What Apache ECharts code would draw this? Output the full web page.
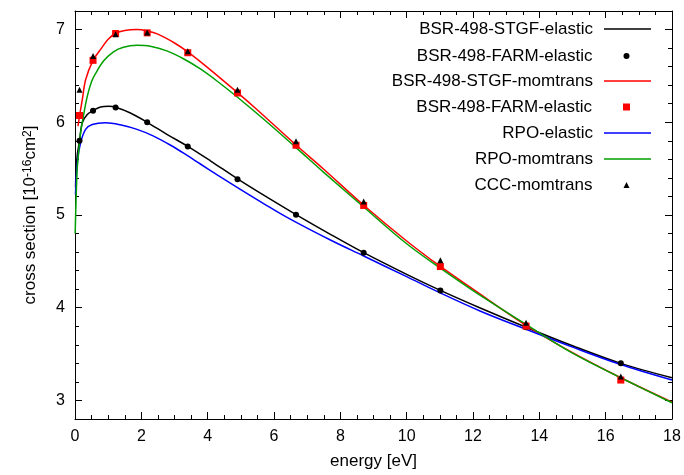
<!DOCTYPE html>
<html>
<head>
<meta charset="utf-8">
<script src="https://cdn.jsdelivr.net/npm/echarts@6/dist/echarts.min.js"></script>
<style>html,body{margin:0;padding:0;background:#fff;}#c{width:684px;height:475px;}</style>
</head>
<body>
<div id="c"></div>
<script>
// ---- data ----
const energyFarm = [0.136, 0.544, 1.224, 2.176, 3.4, 4.9, 6.664, 8.704, 11.016, 13.6, 16.456];
const farmElastic = [5.802, 6.123, 6.158, 6.001, 5.738, 5.385, 5.003, 4.594, 4.187, 3.79, 3.402];
const farmMomtrans = [6.073, 6.668, 6.957, 6.964, 6.750, 6.316, 5.752, 5.103, 4.444, 3.802, 3.220];
const energyCcc = [0.136, 0.544, 1.224, 2.176, 3.4, 4.9, 6.664, 8.704, 11.016, 13.6, 16.456];
const cccMomtrans = [6.351, 6.714, 6.950, 6.968, 6.765, 6.351, 5.795, 5.145, 4.511, 3.837, 3.257];

const stgfElasticE = [0.015, 0.06, 0.136, 0.22, 0.37, 0.544, 0.77, 1.02, 1.224, 1.67, 2.176, 2.77, 3.4, 4.08, 4.9, 5.8, 6.664, 7.7, 8.704, 10, 11.016, 12.2, 13.6, 15, 16.456, 18];
const stgfElastic = [5.30, 5.62, 5.80, 5.995, 6.083, 6.125, 6.165, 6.172, 6.162, 6.10, 6.00, 5.87, 5.74, 5.585, 5.39, 5.19, 5.005, 4.792, 4.594, 4.36, 4.187, 4.0, 3.79, 3.59, 3.40, 3.245];

const stgfMomtransE = [0.09, 0.136, 0.22, 0.32, 0.544, 0.8, 1.0, 1.224, 1.5, 1.87, 2.176, 2.5, 3.0, 3.4, 4.0, 4.9, 5.5, 6.664, 7.5, 8.704, 10, 11.016, 12, 13.6, 15, 16.456, 18];
const stgfMomtrans = [5.958, 6.065, 6.244, 6.458, 6.668, 6.80, 6.895, 6.96, 6.99, 7.0, 6.985, 6.95, 6.855, 6.76, 6.59, 6.32, 6.133, 5.755, 5.494, 5.105, 4.72, 4.445, 4.20, 3.81, 3.515, 3.245, 2.982];

const rpoElasticE = [0.015, 0.07, 0.17, 0.32, 0.52, 0.92, 1.36, 1.87, 2.37, 2.87, 3.37, 3.78, 4.3, 4.9, 5.7, 6.49, 7.7, 8.69, 10, 11.01, 12.21, 13.58, 15, 16.43, 18];
const rpoElastic = [5.22, 5.567, 5.78, 5.923, 5.976, 5.995, 5.973, 5.923, 5.851, 5.755, 5.645, 5.55, 5.43, 5.295, 5.12, 4.955, 4.73, 4.56, 4.335, 4.16, 3.965, 3.77, 3.575, 3.39, 3.22];

const rpoMomtransE = [0.005, 0.06, 0.10, 0.17, 0.27, 0.37, 0.5, 0.61, 0.86, 1.16, 1.46, 1.87, 2.27, 2.77, 3.27, 3.78, 4.3, 4.9, 5.7, 6.664, 7.5, 8.704, 10, 11.016, 12, 13.6, 15, 16.456, 18];
const rpoMomtrans = [4.80, 5.46, 5.64, 5.89, 6.10, 6.28, 6.44, 6.52, 6.66, 6.76, 6.81, 6.83, 6.82, 6.77, 6.685, 6.575, 6.44, 6.27, 6.03, 5.727, 5.46, 5.086, 4.69, 4.426, 4.185, 3.82, 3.51, 3.245, 2.975];

const xTickLabels = [0, 2, 4, 6, 8, 10, 12, 14, 16, 18];
const yMajorTicks = [3, 4, 5, 6, 7];
const yMinorTicks = [3.2, 3.4, 3.6, 3.8, 4.2, 4.4, 4.6, 4.8, 5.2, 5.4, 5.6, 5.8, 6.2, 6.4, 6.6, 6.8];

const legendNames = ['BSR-498-STGF-elastic', 'BSR-498-FARM-elastic', 'BSR-498-STGF-momtrans', 'BSR-498-FARM-momtrans', 'RPO-elastic', 'RPO-momtrans', 'CCC-momtrans'];
const legendLabels = ['BSR-498-STGF-elastic', 'BSR-498-FARM-elastic', 'BSR-498-STGF-momtrans', 'BSR-498-FARM-elastic', 'RPO-elastic', 'RPO-momtrans', 'CCC-momtrans'];

// ---- chart ----
const FONT = "'Liberation Sans', Arial, sans-serif";
const pair = (xs, ys) => xs.map((x, i) => [x, ys[i]]);

const chart = echarts.init(document.getElementById('c'), null, {renderer: 'canvas'});

const xMin = xTickLabels[0], xMax = xTickLabels[xTickLabels.length - 1];
const yMin = 2.8, yMax = 7.2;

function xAx(pos, showLabel) {
  return {
    type: 'value', position: pos, min: xMin, max: xMax, interval: 2,
    axisLine: {show: true, onZero: false, lineStyle: {color: '#000', width: 1}},
    axisTick: {show: true, inside: true, length: 7, lineStyle: {color: '#000'}},
    minorTick: {show: true, splitNumber: 4, length: 4, lineStyle: {color: '#000'}},
    axisLabel: {show: showLabel, color: '#000', fontSize: 16, fontFamily: FONT, margin: 10},
    splitLine: {show: false},
    name: showLabel ? 'energy [eV]' : '',
    nameLocation: 'middle', nameGap: 34,
    nameTextStyle: {color: '#000', fontSize: 17, fontFamily: FONT}
  };
}
function yAx(pos, major, showLabel) {
  const o = {
    type: 'value', position: pos, min: yMin, max: yMax,
    axisLine: {show: major, onZero: false, lineStyle: {color: '#000', width: 1}},
    axisTick: {show: true, inside: true, length: major ? 7 : 4, customValues: major ? yMajorTicks : yMinorTicks, lineStyle: {color: '#000', width: 1}},
    axisLabel: {show: showLabel, color: '#000', fontSize: 16, fontFamily: FONT, margin: 10, customValues: yMajorTicks},
    splitLine: {show: false}
  };
  if (showLabel) {
    o.name = 'cross section [10{sup|-16}cm{sup|2}]';
    o.nameLocation = 'middle';
    o.nameGap = 36;
    o.nameTextStyle = {color: '#000', fontSize: 17, fontFamily: FONT,
      rich: {sup: {fontSize: 12, fontFamily: FONT, color: '#000', verticalAlign: 'top', padding: [0, 0, 4, 0]}}};
  }
  return o;
}

const legendRowTop = [19, 46, 71, 97, 123, 149, 175];
const lineColors = {0: '#000000', 2: '#ff0000', 4: '#0000ff', 5: '#00a000'};
const legendIcon = {1: 'circle', 3: 'rect', 6: 'triangle'};
const legends = legendNames.map((n, i) => {
  const isLine = [0, 2, 4, 5].indexOf(i) >= 0;
  const iconSize = i === 3 ? 7 : 6;
  return {
    data: [{name: n, icon: isLine ? 'rect' : legendIcon[i]}],
    orient: 'vertical', align: 'right', padding: 0,
    right: isLine ? 33 : (i === 3 ? 54 : 54.5),
    top: legendRowTop[i],
    itemWidth: isLine ? 47 : iconSize,
    itemHeight: isLine ? 1.5 : iconSize,
    selectedMode: false,
    formatter: () => legendLabels[i],
    textStyle: {color: '#000', fontSize: 17, fontFamily: FONT, lineHeight: 20,
      padding: [0, isLine ? 6 : 26, 0, 0]}
  };
});

const lineSeries = (name, xs, ys, color) => ({
  name, type: 'line', data: pair(xs, ys), symbol: 'none', smooth: 0.35,
  lineStyle: {color, width: 1.5}, itemStyle: {color}, z: 2, clip: true
});
const scatterSeries = (name, xs, ys, symbol, size, color, z) => ({
  name, type: 'scatter', data: pair(xs, ys), symbol, symbolSize: size,
  itemStyle: {color, opacity: 1}, z
});

chart.setOption({
  animation: false,
  backgroundColor: '#fff',
  grid: {left: 75, right: 12, top: 11, bottom: 53, containLabel: false},
  xAxis: [xAx('bottom', true), xAx('top', false)],
  yAxis: [yAx('left', true, true), yAx('left', false, false), yAx('right', true, false), yAx('right', false, false)],
  legend: legends,
  series: [
    lineSeries(legendNames[0], stgfElasticE, stgfElastic, '#000000'),
    scatterSeries(legendNames[1], energyFarm, farmElastic, 'circle', 6, '#000000', 4),
    lineSeries(legendNames[2], stgfMomtransE, stgfMomtrans, '#ff0000'),
    scatterSeries(legendNames[3], energyFarm, farmMomtrans, 'rect', 7, '#ff0000', 4),
    lineSeries(legendNames[4], rpoElasticE, rpoElastic, '#0000ff'),
    lineSeries(legendNames[5], rpoMomtransE, rpoMomtrans, '#00a000'),
    scatterSeries(legendNames[6], energyCcc, cccMomtrans, 'triangle', 6, '#000000', 5)
  ]
});
</script>
</body>
</html>
